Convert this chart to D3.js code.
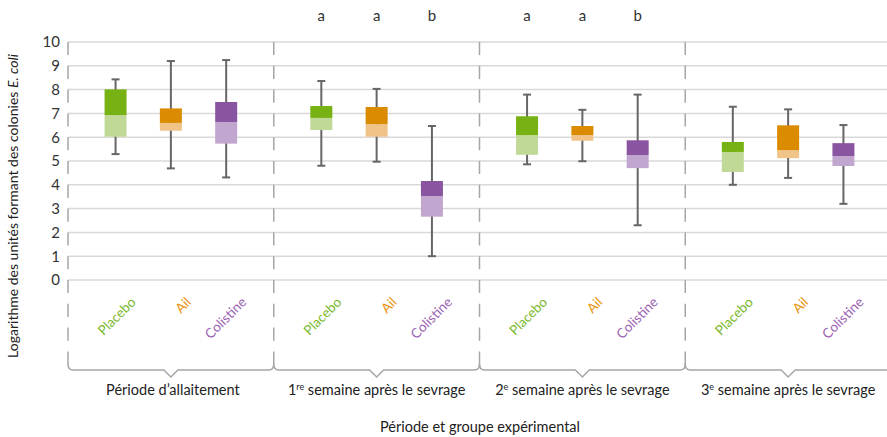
<!DOCTYPE html>
<html>
<head>
<meta charset="utf-8">
<script src="https://cdn.jsdelivr.net/npm/d3@7"></script>
<style>
  body { margin: 0; background: #fff; }
  svg { font-family: 'Lato', 'Open Sans', sans-serif; }
</style>
</head>
<body>
<div id="chart"></div>
<script>
// Periods (outer categories) and treatment groups (inner categories)
const periods = ['p1', 'p2', 'p3', 'p4'];
const groups = ['Placebo', 'Ail', 'Colistine'];
const yTicks = [0, 1, 2, 3, 4, 5, 6, 7, 8, 9, 10];
// letters of significance, per period (empty = none)
const letters = [['', '', ''], ['a', 'a', 'b'], ['a', 'a', 'b'], ['', '', '']];

// box plot values per period, in groups order
const minVals = [[5.29, 4.69, 4.31], [4.80, 4.97, 1.00], [4.86, 4.99, 2.30], [4.00, 4.29, 3.20]];
const q1Vals = [[6.02, 6.27, 5.73], [6.30, 6.02, 2.66], [5.26, 5.85, 4.70], [4.54, 5.12, 4.79]];
const medVals = [[6.93, 6.60, 6.64], [6.81, 6.55, 3.53], [6.09, 6.09, 5.25], [5.38, 5.46, 5.21]];
const q3Vals = [[8.01, 7.21, 7.48], [7.31, 7.27, 4.16], [6.88, 6.47, 5.87], [5.80, 6.50, 5.75]];
const maxVals = [[8.43, 9.20, 9.24], [8.36, 8.03, 6.47], [7.79, 7.15, 7.79], [7.28, 7.17, 6.51]];

const darkColors = { Placebo: '#76b214', Ail: '#db8b00', Colistine: '#8a55a0' };
const lightColors = { Placebo: '#c1d996', Ail: '#f0c488', Colistine: '#c1a6d0' };
const labelColors = { Placebo: '#7ab82e', Ail: '#e8920c', Colistine: '#9b62b3' };

const width = 887, height = 437;
const plotTop = 42, plotBottom = 280;

const svg = d3.select('#chart').append('svg')
  .attr('width', width)
  .attr('height', height);

const x0 = d3.scaleBand().domain(periods).range([68, 891]);
const x1 = d3.scaleBand().domain(groups).range([0, x0.bandwidth()]).paddingOuter(0.36);
const y = d3.scaleLinear().domain([0, 10]).range([plotBottom, plotTop]);

const cx = (pi, g) => x0(periods[pi]) + x1(g) + x1.bandwidth() / 2;

// gridlines
svg.append('g').selectAll('line')
  .data(yTicks)
  .enter().append('line')
  .attr('x1', 68).attr('x2', width)
  .attr('y1', d => y(d)).attr('y2', d => y(d))
  .attr('stroke', '#d9d9d9')
  .attr('stroke-width', 1.5);

// y axis labels
const yAxis = svg.append('g')
  .attr('transform', 'translate(60,0)')
  .call(d3.axisLeft(y).tickValues(yTicks).tickSize(0).tickPadding(0));
yAxis.select('.domain').remove();
yAxis.selectAll('text')
  .attr('font-size', 15)
  .attr('fill', '#333')
  .attr('font-family', "'Lato', sans-serif");

// dashed separators between periods
const unit = y(0) - y(1);
const bounds = periods.map(p => x0(p)).concat([x0.range()[1]]);
svg.append('g').selectAll('line')
  .data(bounds)
  .enter().append('line')
  .attr('x1', d => d).attr('x2', d => d)
  .attr('y1', plotTop).attr('y2', 365)
  .attr('stroke', '#a6a6a6')
  .attr('stroke-width', 1.5)
  .attr('stroke-dasharray', `${unit * 0.55},${unit * 0.45}`);

// brackets under each period
const by = 370;
svg.append('g').selectAll('path')
  .data(periods)
  .enter().append('path')
  .attr('d', p => {
    const a = x0(p), b = a + x0.bandwidth(), m = a + x0.bandwidth() / 2;
    return `M${a},${by - 6} Q${a},${by} ${a + 5},${by} L${m - 7},${by} L${m},${by + 7} L${m + 7},${by} L${b - 5},${by} Q${b},${by} ${b},${by - 6}`;
  })
  .attr('fill', 'none')
  .attr('stroke', '#a6a6a6')
  .attr('stroke-width', 1.5);

// boxes
const boxW = 22, capW = 8;
periods.forEach((p, pi) => {
  const g = svg.append('g');
  groups.forEach((grp, gi) => {
    const c = cx(pi, grp);
    g.append('line')
      .attr('x1', c).attr('x2', c)
      .attr('y1', y(maxVals[pi][gi])).attr('y2', y(minVals[pi][gi]))
      .attr('stroke', '#666').attr('stroke-width', 2);
    [maxVals[pi][gi], minVals[pi][gi]].forEach(v => {
      g.append('line')
        .attr('x1', c - capW / 2).attr('x2', c + capW / 2)
        .attr('y1', y(v)).attr('y2', y(v))
        .attr('stroke', '#666').attr('stroke-width', 2);
    });
    g.append('rect')
      .attr('x', c - boxW / 2).attr('width', boxW)
      .attr('y', y(medVals[pi][gi]))
      .attr('height', y(q1Vals[pi][gi]) - y(medVals[pi][gi]))
      .attr('fill', lightColors[grp]);
    g.append('rect')
      .attr('x', c - boxW / 2).attr('width', boxW)
      .attr('y', y(q3Vals[pi][gi]))
      .attr('height', y(medVals[pi][gi]) - y(q3Vals[pi][gi]))
      .attr('fill', darkColors[grp]);
    // significance letters
    if (letters[pi][gi]) {
      svg.append('text')
        .attr('x', c).attr('y', 21)
        .attr('text-anchor', 'middle')
        .attr('font-size', 15)
        .attr('fill', '#333')
        .text(letters[pi][gi]);
    }
    // rotated group labels
    svg.append('text')
      .attr('transform', `translate(${c + 21},${303}) rotate(-45)`)
      .attr('text-anchor', 'end')
      .attr('font-size', 13.5)
      .attr('fill', labelColors[grp])
      .text(grp);
  });
});

// period labels
const periodLabels = [
  ['Période d\u2019allaitement', '', ''],
  ['1', 're', ' semaine après le sevrage'],
  ['2', 'e', ' semaine après le sevrage'],
  ['3', 'e', ' semaine après le sevrage']
];
periods.forEach((p, pi) => {
  const t = svg.append('text')
    .attr('x', x0(p) + x0.bandwidth() / 2 + (pi === 0 ? 2 : 0))
    .attr('y', 395)
    .attr('text-anchor', 'middle')
    .attr('font-size', 14.5)
    .attr('fill', '#222');
  const [a, sup, b] = periodLabels[pi];
  t.append('tspan').text(a);
  if (sup) {
    t.append('tspan').attr('dy', -5).attr('font-size', 9).text(sup);
    t.append('tspan').attr('dy', 5).text(b);
  }
});

// axis titles
svg.append('text')
  .attr('x', 480).attr('y', 432)
  .attr('text-anchor', 'middle')
  .attr('font-size', 14.5)
  .attr('fill', '#222')
  .text('Période et groupe expérimental');

const yt = svg.append('text')
  .attr('transform', 'translate(18,206) rotate(-90)')
  .attr('text-anchor', 'middle')
  .attr('font-size', 14)
  .attr('fill', '#222');
yt.append('tspan').text('Logarithme des unités formant des colonies ');
yt.append('tspan').attr('font-style', 'italic').text('E. coli');
</script>
</body>
</html>
